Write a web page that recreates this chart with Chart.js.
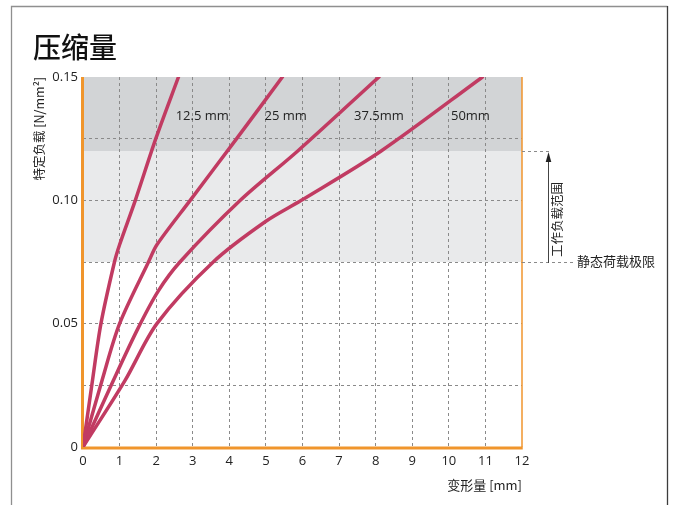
<!DOCTYPE html>
<html lang="zh">
<head>
<meta charset="utf-8">
<title>压缩量</title>
<script src="https://cdn.jsdelivr.net/npm/chart.js@4.4.1/dist/chart.umd.min.js"></script>
<style>
  html, body { margin: 0; padding: 0; background: #fff; }
  #wrap { width: 676px; height: 505px; }
</style>
</head>
<body>
<div id="wrap"><canvas id="chart" width="676" height="505"></canvas></div>
<script>
// === DATA ===
// deformation [mm] vs. specific load [N/mm²], one curve per pad thickness
const seriesNames = ["12.5 mm", "25 mm", "37.5mm", "50mm"];

const x125 = [0, 0.25, 0.49, 0.86, 1.0, 1.43, 1.99, 2.61];
const y125 = [0, 0.026, 0.05, 0.075, 0.082, 0.1, 0.125, 0.15];

const x25 = [0, 0.52, 1.0, 1.79, 2.02, 2.93, 4.2, 5.45];
const y25 = [0, 0.027, 0.05, 0.075, 0.082, 0.1, 0.125, 0.15];

const x375 = [0, 0.83, 1.5, 2.06, 2.65, 4.3, 5.87, 8.09];
const y375 = [0, 0.027, 0.048, 0.0633, 0.075, 0.1, 0.12, 0.15];

const x50 = [0, 1.15, 2.02, 3.56, 5.0, 5.97, 8.15, 10.92];
const y50 = [0, 0.027, 0.05, 0.075, 0.0915, 0.1, 0.12, 0.15];

const yTickValues = [0, 0.05, 0.1, 0.15];
const yTickLabels = ["0", "0.05", "0.10", "0.15"];

const staticLimit = 0.075; // 静态荷载极限
const workLimit = 0.12;    // upper end of 工作负载范围
// =================

// where each thickness label sits, in data units
const labelSpots = [[3.26, 0.134], [5.54, 0.134], [8.09, 0.134], [10.59, 0.134]];

const LATIN = '"Open Sans", "Noto Sans CJK SC", sans-serif';
const CJK = '"Noto Sans CJK SC", "Open Sans", sans-serif';
const ORANGE = "#f0952c";
const CURVE = "#c13b62";
const GRID = "#8a8a8a";

function pts(xs, ys) { return xs.map((x, i) => ({ x, y: ys[i] })); }
function near(v, list) { return list.findIndex(t => Math.abs(t - v) < 1e-9); }

const curves = [pts(x125, y125), pts(x25, y25), pts(x375, y375), pts(x50, y50)];

// bands, axis lines, frame and side notes
const decor = {
  id: "decor",
  beforeDraw(chart) {
    const { ctx, chartArea: a, scales: { y } } = chart;
    const yTop = y.getPixelForValue(y.max);
    const yWork = y.getPixelForValue(workLimit);
    const yStatic = y.getPixelForValue(staticLimit);
    ctx.save();
    ctx.fillStyle = "#fff";
    ctx.fillRect(0, 0, chart.width, chart.height);
    ctx.fillStyle = "#d2d4d6";
    ctx.fillRect(a.left, yTop, a.right - a.left, yWork - yTop);
    ctx.fillStyle = "#e9eaeb";
    ctx.fillRect(a.left, yWork, a.right - a.left, yStatic - yWork);
    ctx.restore();
  },
  beforeDatasetsDraw(chart) {
    const { ctx, chartArea: a } = chart;
    ctx.save();
    ctx.strokeStyle = ORANGE;
    ctx.lineWidth = 1.5;
    ctx.beginPath(); ctx.moveTo(a.right, a.top); ctx.lineTo(a.right, a.bottom); ctx.stroke();
    ctx.lineWidth = 3;
    ctx.beginPath(); ctx.moveTo(a.left - 0.5, a.top); ctx.lineTo(a.left - 0.5, a.bottom + 2); ctx.stroke();
    ctx.beginPath(); ctx.moveTo(a.left - 2, a.bottom + 1); ctx.lineTo(a.right + 0.75, a.bottom + 1); ctx.stroke();
    ctx.restore();
  },
  afterDraw(chart) {
    const { ctx, chartArea: a, scales: { x, y } } = chart;
    const yWork = y.getPixelForValue(workLimit);
    const yStatic = y.getPixelForValue(staticLimit);
    ctx.save();

    // outer frame
    ctx.lineWidth = 1.3;
    ctx.strokeStyle = "#8f8f8f";
    ctx.beginPath(); ctx.moveTo(11.5, chart.height); ctx.lineTo(11.5, 6.5); ctx.lineTo(667.5, 6.5); ctx.stroke();
    ctx.strokeStyle = "#3c3c3c";
    ctx.beginPath(); ctx.moveTo(667.5, 6); ctx.lineTo(667.5, chart.height); ctx.stroke();

    // title
    ctx.fillStyle = "#111";
    ctx.font = "500 28px " + CJK;
    ctx.textAlign = "left";
    ctx.textBaseline = "alphabetic";
    ctx.fillText("压缩量", 33, 58);

    // thickness labels
    ctx.font = "13px " + LATIN;
    ctx.textAlign = "center";
    ctx.textBaseline = "middle";
    ctx.fillStyle = "#222";
    seriesNames.forEach((name, i) => {
      ctx.fillText(name, x.getPixelForValue(labelSpots[i][0]), y.getPixelForValue(labelSpots[i][1]));
    });

    // dashed leaders out to the right
    ctx.strokeStyle = GRID;
    ctx.lineWidth = 1;
    ctx.setLineDash([3, 3]);
    ctx.beginPath(); ctx.moveTo(a.right, yWork + 0.5); ctx.lineTo(a.right + 28, yWork + 0.5); ctx.stroke();
    ctx.beginPath(); ctx.moveTo(a.right, yStatic + 0.5); ctx.lineTo(a.right + 51, yStatic + 0.5); ctx.stroke();
    ctx.setLineDash([]);

    // arrow for working range
    const ax = a.right + 26.5;
    ctx.strokeStyle = "#444";
    ctx.beginPath(); ctx.moveTo(ax, yStatic + 1); ctx.lineTo(ax, yWork + 8); ctx.stroke();
    ctx.fillStyle = "#222";
    ctx.beginPath();
    ctx.moveTo(ax, yWork + 1);
    ctx.lineTo(ax + 2.8, yWork + 11);
    ctx.lineTo(ax - 2.8, yWork + 11);
    ctx.closePath();
    ctx.fill();

    ctx.fillStyle = "#222";
    ctx.font = "12.5px " + CJK;
    ctx.save();
    ctx.translate(a.right + 35, yStatic - 5);
    ctx.rotate(-Math.PI / 2);
    ctx.textAlign = "left";
    ctx.textBaseline = "middle";
    ctx.fillText("工作负载范围", 0, 0);
    ctx.restore();

    ctx.font = "13px " + CJK;
    ctx.textAlign = "left";
    ctx.textBaseline = "middle";
    ctx.fillText("静态荷载极限", a.right + 55, yStatic - 1);

    ctx.restore();
  }
};

const gridColor = (ends) => (c) => (ends.includes(c.tick.value) ? "rgba(0,0,0,0)" : GRID);

new Chart(document.getElementById("chart"), {
  type: "line",
  data: {
    datasets: curves.map((d, i) => ({
      label: seriesNames[i],
      data: d,
      borderColor: CURVE,
      borderWidth: 3.5,
      borderCapStyle: "round",
      borderJoinStyle: "round",
      pointRadius: 0,
      tension: 0.3,
      fill: false
    }))
  },
  options: {
    responsive: false,
    animation: false,
    devicePixelRatio: 1,
    layout: { padding: { top: 77, right: 154, left: 0, bottom: 0 } },
    plugins: { legend: { display: false }, tooltip: { enabled: false } },
    scales: {
      x: {
        type: "linear",
        min: 0,
        max: 12,
        afterFit(s) { s.height = 58; },
        ticks: {
          stepSize: 1,
          padding: 6,
          color: "#222",
          font: { family: LATIN, size: 13 }
        },
        grid: { color: gridColor([0, 12]), lineWidth: 1, drawTicks: false },
        border: { display: false, dash: [3, 3] },
        title: {
          display: true,
          text: "变形量 [mm]",
          align: "end",
          color: "#222",
          font: { family: CJK, size: 13 },
          padding: { top: 0, bottom: 12 }
        }
      },
      y: {
        min: 0,
        max: 0.15,
        afterFit(s) { s.width = 83; },
        ticks: {
          stepSize: 0.025,
          padding: 5,
          color: "#222",
          font: { family: LATIN, size: 13 },
          callback: (v) => { const k = near(v, yTickValues); return k < 0 ? "" : yTickLabels[k]; }
        },
        grid: {
          color: (c) => (near(c.tick.value, [0, 0.15]) >= 0 ? "rgba(0,0,0,0)" : GRID),
          lineWidth: 1,
          drawTicks: false
        },
        border: { display: false, dash: [3, 3] },
        title: {
          display: true,
          text: "特定负载 [N/mm²]",
          align: "end",
          color: "#222",
          font: { family: CJK, size: 12.5 },
          padding: { top: 32, bottom: 0 }
        }
      }
    }
  },
  plugins: [decor]
});
</script>
</body>
</html>
